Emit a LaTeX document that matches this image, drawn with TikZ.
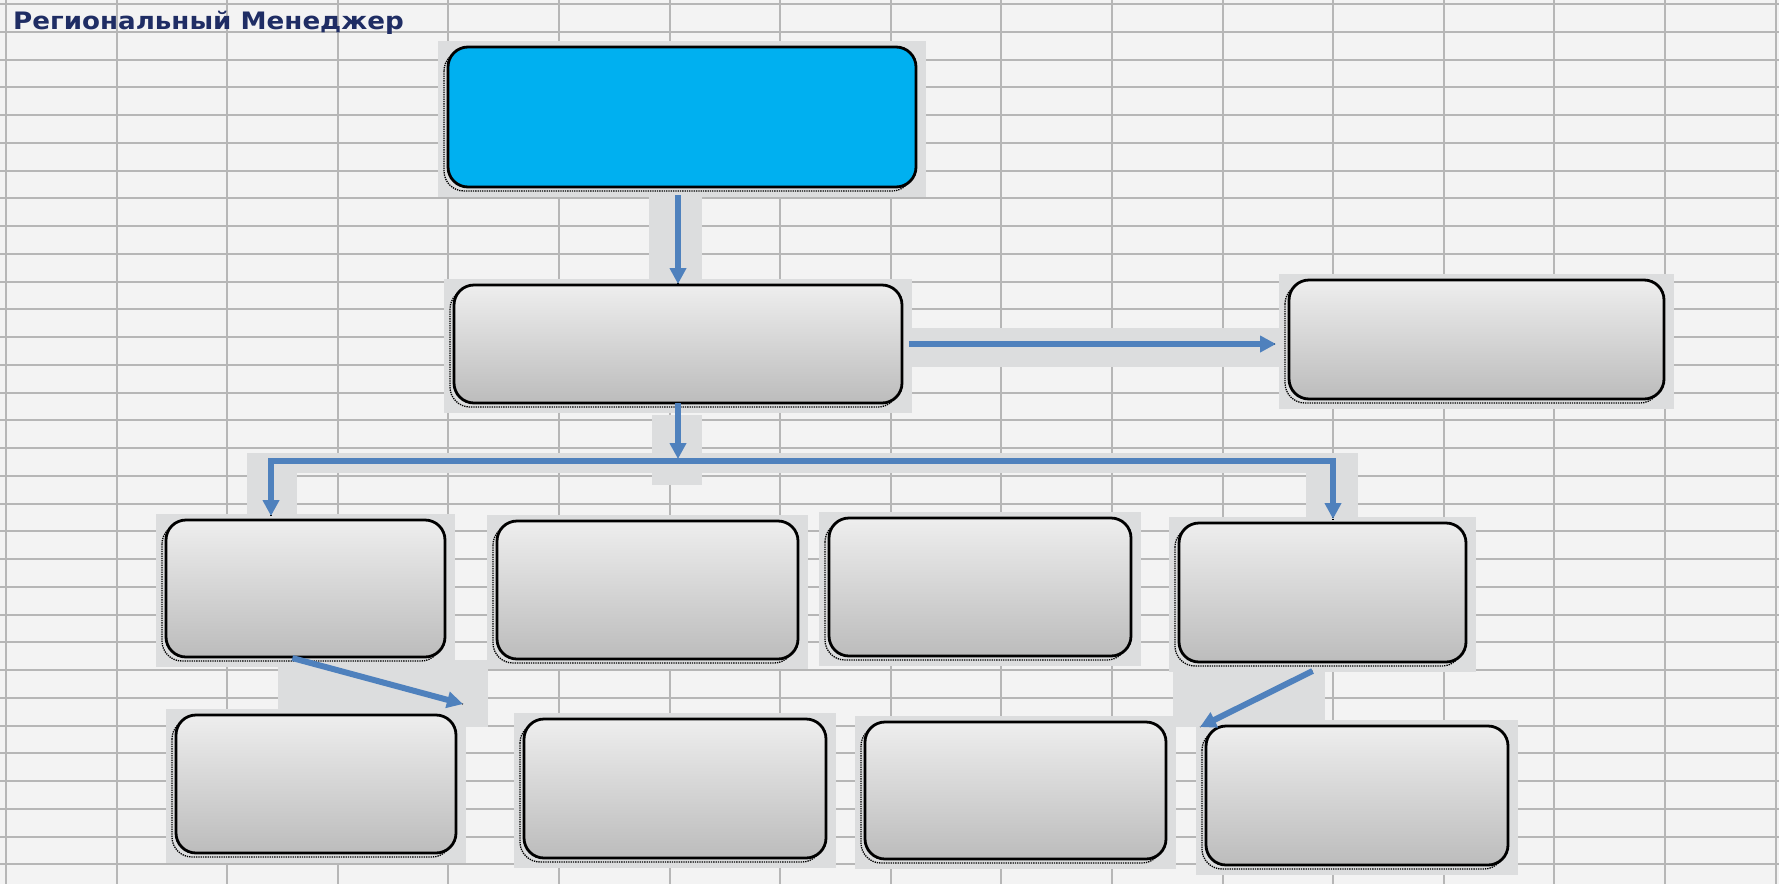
\documentclass[tikz,border=0pt]{standalone}
\usepackage{fontspec}
\usepackage{graphicx}
\usetikzlibrary{arrows.meta}
\newfontfamily\titlefont{DejaVu Sans}
\definecolor{bgc}{RGB}{243,243,243}
\definecolor{gridc}{RGB}{182,182,182}
\definecolor{panelc}{RGB}{220,221,222}
\definecolor{bluec}{RGB}{0,176,240}
\definecolor{arrc}{RGB}{79,129,189}
\definecolor{titlec}{RGB}{31,45,100}
\definecolor{gtop}{RGB}{238,238,238}
\definecolor{gbot}{RGB}{188,188,188}
\tikzset{
  gridline/.style={draw=gridc, line width=2pt},
  panel/.style={fill=panelc},
  orgshadow/.style={draw=black, densely dotted, line width=1.3pt, rounded corners=20pt},
  graybox/.style={draw=black, line width=2.8pt, rounded corners=20pt, top color=gtop, bottom color=gbot, inner sep=0pt, outer sep=0pt},
  bluebox/.style={draw=black, line width=2.8pt, rounded corners=20pt, fill=bluec, inner sep=0pt, outer sep=0pt},
  arr/.style={draw=arrc, line width=6pt, -{Triangle[length=16pt,width=16pt]}},
  arrtwo/.style={draw=arrc, line width=6pt, {Triangle[length=16pt,width=16pt]}-{Triangle[length=16pt,width=16pt]}},
  arrshadow/.style={draw=black, densely dotted, line width=1.2pt},
  titletext/.style={text=titlec, font=\titlefont\bfseries\fontsize{24}{28}\selectfont, inner sep=0pt, anchor=base west},
}
\newcommand\orgbox[6]{%
  \fill[panel] (#2-10,#3-6) rectangle (#4+10,#5+10);
  \draw[orgshadow] (#2-4,#3+4) rectangle (#4-4,#5+4);
  \node[#6, minimum width={#4-#2}, minimum height={#5-#3}] (#1) at ({(#2+#4)/2},{(#3+#5)/2}) {};
}
\begin{document}
\begin{tikzpicture}[x=1pt,y=-1pt]
\useasboundingbox (0,0) rectangle (1779,884);
\fill[bgc] (0,0) rectangle (1779,884);
% grid
\foreach \i in {0,...,16} \draw[gridline] ({6+110.6*\i},0) -- ({6+110.6*\i},884);
\foreach \j in {0,...,31} \draw[gridline] (0,{4+27.75*\j}) -- (1779,{4+27.75*\j});
% corridors
\fill[panel] (649,187) rectangle (702,279);
\fill[panel] (912,328) rectangle (1279,367);
\fill[panel] (652,415) rectangle (702,455);
\fill[panel] (247,453) rectangle (1345,473);
\fill[panel] (247,453) rectangle (297,514);
\fill[panel] (1306,453) rectangle (1358,517);
\fill[panel] (652,465) rectangle (702,485);
\fill[panel] (278,660) rectangle (488,709);
\fill[panel] (465,700) rectangle (488,727);
\fill[panel] (1173,670) rectangle (1325,727);
% boxes
\orgbox{top}{448}{47}{916}{187}{bluebox}
\orgbox{b2}{454}{285}{902}{403}{graybox}
\orgbox{R}{1289}{280}{1664}{399}{graybox}
\orgbox{A}{166}{520}{445}{657}{graybox}
\orgbox{B}{497}{521}{798}{659}{graybox}
\orgbox{C}{829}{518}{1131}{656}{graybox}
\orgbox{D}{1179}{523}{1466}{662}{graybox}
\orgbox{E}{176}{715}{456}{853}{graybox}
\orgbox{F}{524}{719}{826}{858}{graybox}
\orgbox{G}{865}{722}{1166}{859}{graybox}
\orgbox{H}{1206}{726}{1508}{865}{graybox}
% connector points
\coordinate (J) at (678,461);
\coordinate (JL) at (271,461);
\coordinate (JR) at (1333,461);
\coordinate (AE) at (463,704);
\coordinate (DE) at (1200,727);
% arrow shadows
\begin{scope}[xshift=-3pt,yshift=-4.5pt]
\draw[arrshadow, shorten <=8pt] (top.south -| b2.north) -- (b2.north);
\draw[arrshadow, shorten <=7pt, shorten >=13pt] (b2.east) -- (b2.east -| R.west);
\draw[arrshadow] (b2.south) -- (J);
\draw[arrshadow, shorten <=4pt, shorten >=4pt] (JL |- A.north) -- (JL) -- (JR) -- (JR |- D.north);
\draw[arrshadow, shorten <=4pt] ([xshift=-17pt]A.south) -- (AE);
\draw[arrshadow] ([xshift=-10pt,yshift=-9pt]D.south) -- (DE);
\end{scope}
% arrows
\draw[arr, shorten <=8pt, shorten >=1pt] (top.south -| b2.north) -- (b2.north);
\draw[arr, shorten <=7pt, shorten >=13pt] (b2.east) -- (b2.east -| R.west);
\draw[arr, shorten >=2pt] (b2.south) -- (J);
\draw[arrtwo, shorten <=4pt, shorten >=4pt] (JL |- A.north) -- (JL) -- (JR) -- (JR |- D.north);
\draw[arr, shorten <=4pt] ([xshift=-17pt]A.south) -- (AE);
\draw[arr] ([xshift=-10pt,yshift=-9pt]D.south) -- (DE);
% title
\node[titletext] (title) at (13,29.5) {\scalebox{1.09}[1]{Региональный Менеджер}};
\end{tikzpicture}
\end{document}
